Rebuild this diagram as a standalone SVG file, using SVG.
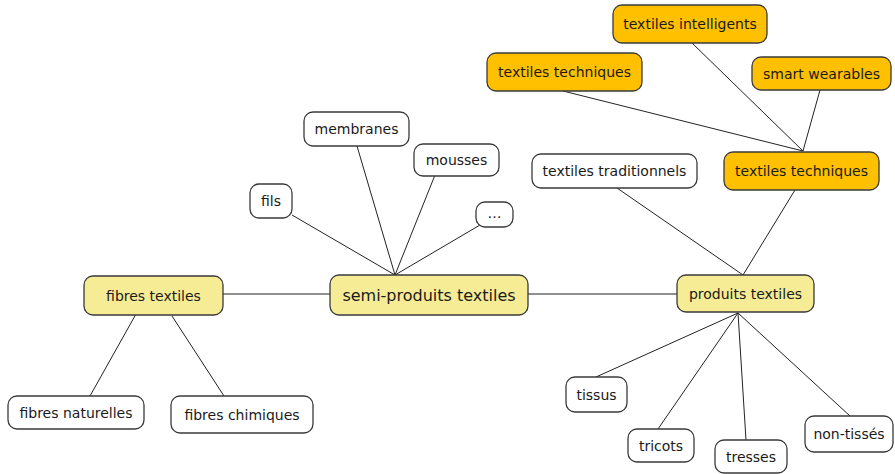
<svg xmlns="http://www.w3.org/2000/svg" width="895" height="474" viewBox="0 0 895 474">
<style>
rect{stroke:#3a3a3a;stroke-width:1.3}
.w{fill:#fff}
.y{fill:#f6ec96}
.o{fill:#ffc000}
text{font-family:"DejaVu Sans",Verdana,sans-serif;font-size:14px;fill:#1a1a1a;text-anchor:middle}
#connectors line{stroke:#222;stroke-width:1}
</style>
<rect width="895" height="474" fill="#fff" style="stroke:none"/>
<g id="connectors">
<line x1="223" y1="294" x2="330" y2="294"/>
<line x1="528" y1="294" x2="677" y2="294"/>
<line x1="136" y1="314" x2="90" y2="396"/>
<line x1="172" y1="316" x2="224" y2="396"/>
<line x1="292" y1="215" x2="395" y2="275"/>
<line x1="357" y1="146" x2="395" y2="275"/>
<line x1="435" y1="175" x2="395" y2="275"/>
<line x1="480" y1="225" x2="395" y2="275"/>
<line x1="617" y1="188" x2="743" y2="275"/>
<line x1="795" y1="190" x2="743" y2="275"/>
<line x1="563" y1="91" x2="803" y2="151"/>
<line x1="692" y1="43" x2="803" y2="151"/>
<line x1="820" y1="90" x2="803" y2="151"/>
<line x1="738" y1="313" x2="596" y2="377"/>
<line x1="738" y1="313" x2="658" y2="429"/>
<line x1="738" y1="313" x2="746" y2="440"/>
<line x1="738" y1="313" x2="850" y2="416"/>
</g>
<g id="fibres-textiles"><rect class="y" x="84" y="276" width="139" height="39" rx="9"/><text x="153.5" y="300.5">fibres textiles</text></g>
<g id="fibres-naturelles"><rect class="w" x="8" y="396" width="136" height="33" rx="9"/><text x="76" y="417.5">fibres naturelles</text></g>
<g id="fibres-chimiques"><rect class="w" x="171" y="396" width="142" height="37" rx="9"/><text x="242" y="419.5">fibres chimiques</text></g>
<g id="semi-produits"><rect class="y" x="330" y="275" width="198" height="40" rx="9"/><text x="429" y="300.5" style="font-size:16px">semi-produits textiles</text></g>
<g id="membranes"><rect class="w" x="304" y="112" width="105" height="34" rx="9"/><text x="356.5" y="134">membranes</text></g>
<g id="mousses"><rect class="w" x="414" y="144" width="85" height="32" rx="9"/><text x="456.5" y="165">mousses</text></g>
<g id="fils"><rect class="w" x="250" y="184" width="42" height="34" rx="9"/><text x="271" y="206">fils</text></g>
<g id="etc"><rect class="w" x="476" y="202" width="37" height="25" rx="9"/><text x="494.5" y="218">…</text></g>
<g id="produits-textiles"><rect class="y" x="677" y="275" width="137" height="37" rx="9"/><text x="745.5" y="298.5">produits textiles</text></g>
<g id="textiles-traditionnels"><rect class="w" x="532" y="154" width="165" height="34" rx="9"/><text x="614.5" y="176">textiles traditionnels</text></g>
<g id="textiles-techniques"><rect class="o" x="724" y="152" width="155" height="38" rx="9"/><text x="801.5" y="175.5">textiles techniques</text></g>
<g id="textiles-intelligents"><rect class="o" x="613" y="5" width="154" height="38" rx="9"/><text x="690" y="28.5">textiles intelligents</text></g>
<g id="textiles-techniques-2"><rect class="o" x="487" y="53" width="155" height="38" rx="9"/><text x="564.5" y="76.5">textiles techniques</text></g>
<g id="smart-wearables"><rect class="o" x="752" y="57" width="139" height="33" rx="9"/><text x="821.5" y="78.5">smart wearables</text></g>
<g id="tissus"><rect class="w" x="566" y="377" width="61" height="35" rx="9"/><text x="596.5" y="399.5">tissus</text></g>
<g id="tricots"><rect class="w" x="628" y="429" width="66" height="33" rx="9"/><text x="661" y="450.5">tricots</text></g>
<g id="tresses"><rect class="w" x="715" y="440" width="72" height="33" rx="9"/><text x="751" y="461.5">tresses</text></g>
<g id="non-tisses"><rect class="w" x="805" y="416" width="88" height="36" rx="9"/><text x="849" y="439">non-tissés</text></g>
</svg>
